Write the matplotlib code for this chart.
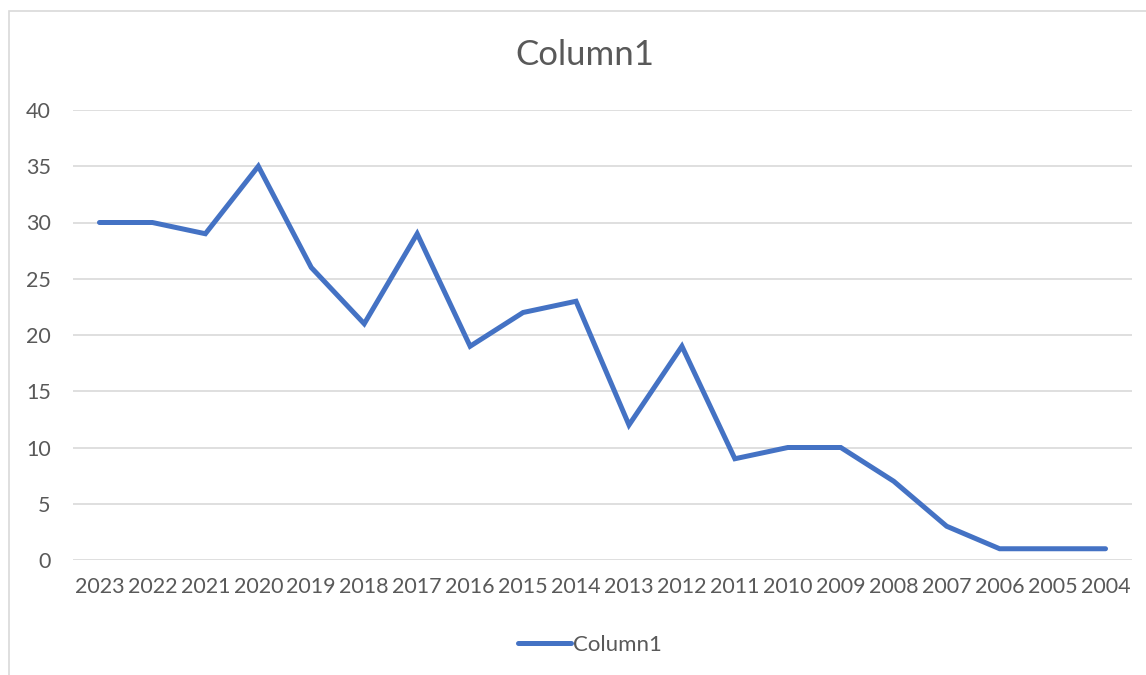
import matplotlib.pyplot as plt
from matplotlib.patches import Rectangle

years = ['2023', '2022', '2021', '2020', '2019', '2018', '2017', '2016', '2015', '2014',
         '2013', '2012', '2011', '2010', '2009', '2008', '2007', '2006', '2005', '2004']
values = [30, 30, 29, 35, 26, 21, 29, 19, 22, 23, 12, 19, 9, 10, 10, 7, 3, 1, 1, 1]

plt.rcParams['font.family'] = ['Lato', 'DejaVu Sans']

fig = plt.figure(figsize=(11.46, 6.75), dpi=100)
# chart border (right/bottom edges fall outside the picture)
fig.patches.append(Rectangle((9 / 1146, -0.1), 1.2, (675 - 11) / 675 + 0.1,
                             transform=fig.transFigure, fill=False,
                             edgecolor='#d9d9d9', linewidth=1.2))

ax = fig.add_axes([73 / 1146, 115 / 675, (1132 - 73) / 1146, 450 / 675])
xs = range(len(years))
ax.plot(xs, values, color='#4472c4', linewidth=3.6, solid_capstyle='round',
        solid_joinstyle='miter', label='Column1')

ax.set_xlim(-0.5, len(years) - 0.5)
ax.set_ylim(0, 40)
ax.set_yticks(range(0, 41, 5))
ax.set_xticks(list(xs))
ax.set_xticklabels(years)
ax.grid(axis='y', color='#d9d9d9', linewidth=1.2)
ax.set_axisbelow(True)
for s in ax.spines.values():
    s.set_visible(False)
ax.tick_params(axis='both', length=0, labelsize=15.5, labelcolor='#595959')
ax.tick_params(axis='y', pad=16)
ax.tick_params(axis='x', pad=12)

fig.text(585 / 1146, 1 - 55 / 675, 'Column1', ha='center', va='center',
         fontsize=25, color='#595959')
fig.legend(loc='center', bbox_to_anchor=(590 / 1146, 1 - 645 / 675), frameon=False,
           fontsize=16, labelcolor='#595959', handlelength=2.4, handletextpad=0.1)

plt.savefig('out.png', dpi=100)
